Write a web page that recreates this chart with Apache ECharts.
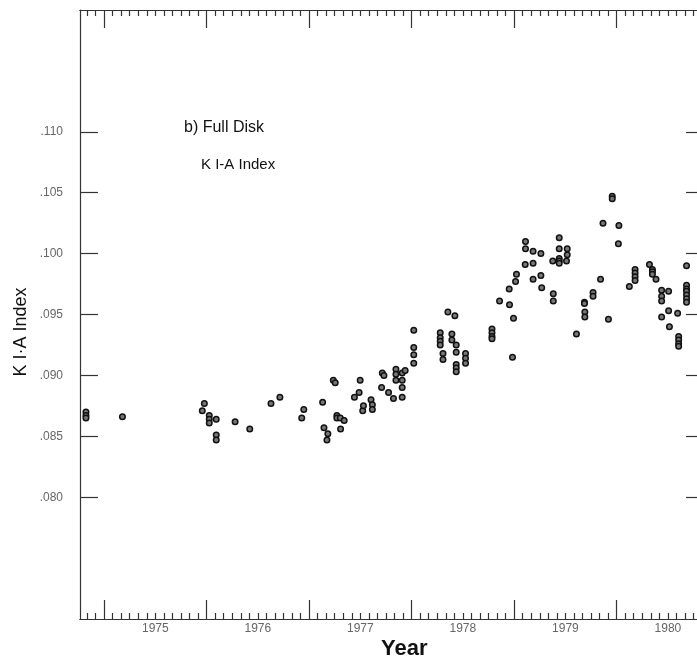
<!DOCTYPE html>
<html>
<head>
<meta charset="utf-8">
<script src="https://cdn.jsdelivr.net/npm/echarts@6/dist/echarts.min.js"></script>
<style>
html,body{margin:0;padding:0;background:#fff;}
#chart{width:697px;height:664px;}
</style>
</head>
<body>
<div id="chart"></div>
<script>
const obsYear = [
  1974.823,1974.823,1974.823,1975.179,
  1975.958,1975.978,1976.026,1976.026,1976.026,1976.094,1976.094,1976.094,
  1976.278,1976.421,1976.628,1976.715,1976.928,1976.948,
  1977.132,1977.145,1977.174,1977.183,1977.236,1977.255,1977.271,1977.271,1977.304,1977.307,1977.342,
  1977.442,1977.488,1977.498,1977.523,1977.530,1977.604,1977.617,1977.617,
  1977.707,1977.714,1977.730,1977.775,1977.823,1977.847,1977.847,1977.847,
  1977.908,1977.908,1977.908,1977.908,1977.937,
  1978.021,1978.021,1978.021,1978.021,
  1978.279,1978.279,1978.279,1978.279,1978.306,1978.306,1978.354,1978.393,1978.393,1978.422,
  1978.435,1978.435,1978.435,1978.435,1978.435,1978.526,1978.526,1978.526,
  1978.784,1978.784,1978.784,1978.784,
  1978.858,1978.952,1978.955,1978.984,1978.994,1979.014,1979.023,
  1979.108,1979.111,1979.111,1979.185,1979.185,1979.185,1979.261,1979.261,1979.269,
  1979.377,1979.382,1979.382,1979.440,1979.440,1979.440,1979.440,1979.440,
  1979.518,1979.518,1979.511,
  1979.608,1979.686,1979.686,1979.690,1979.690,1979.770,1979.770,1979.843,1979.867,1979.920,
  1979.957,1979.957,1980.017,1980.022,
  1980.124,1980.180,1980.180,1980.180,1980.180,
  1980.320,1980.349,1980.349,1980.349,1980.384,
  1980.439,1980.439,1980.439,1980.507,1980.507,1980.439,1980.515,
  1980.595,1980.605,1980.605,1980.605,1980.605,
  1980.682,1980.682,1980.682,1980.682,1980.682,1980.682,1980.682
];
const kIndex = [
  0.0870,0.0867,0.0865,0.0866,
  0.0871,0.0877,0.0867,0.0864,0.0861,0.0864,0.0851,0.0847,
  0.0862,0.0856,0.0877,0.0882,0.0865,0.0872,
  0.0878,0.0857,0.0847,0.0852,0.0896,0.0894,0.0867,0.0865,0.0865,0.0856,0.0863,
  0.0882,0.0886,0.0896,0.0871,0.0875,0.0880,0.0876,0.0872,
  0.0890,0.0902,0.0900,0.0886,0.0881,0.0905,0.0901,0.0896,
  0.0902,0.0896,0.0890,0.0882,0.0904,
  0.0937,0.0923,0.0917,0.0910,
  0.0935,0.0931,0.0928,0.0925,0.0918,0.0913,0.0952,0.0934,0.0929,0.0949,
  0.0925,0.0919,0.0909,0.0906,0.0903,0.0918,0.0914,0.0910,
  0.0938,0.0935,0.0932,0.0930,
  0.0961,0.0971,0.0958,0.0915,0.0947,0.0977,0.0983,
  0.0991,0.1010,0.1004,0.1002,0.0992,0.0979,0.1000,0.0982,0.0972,
  0.0994,0.0967,0.0961,0.1013,0.1004,0.0996,0.0994,0.0992,
  0.1004,0.0999,0.0994,
  0.0934,0.0960,0.0959,0.0952,0.0948,0.0968,0.0965,0.0979,0.1025,0.0946,
  0.1047,0.1045,0.1008,0.1023,
  0.0973,0.0987,0.0984,0.0981,0.0978,
  0.0991,0.0987,0.0985,0.0983,0.0979,
  0.0970,0.0965,0.0961,0.0969,0.0953,0.0948,0.0940,
  0.0951,0.0932,0.0929,0.0926,0.0924,
  0.0990,0.0974,0.0971,0.0969,0.0966,0.0963,0.0960
];
// Axis tick labels
const yearLabels = [1975,1976,1977,1978,1979,1980];
const yTickValues = [0.080,0.085,0.090,0.095,0.100,0.105,0.110];

const X_MIN = 1974.765, X_MAX = 1980.784;
const yearTicks = yearLabels.slice();
const labelPos = yearLabels.map(y => y + 0.5);
const monthTicks = [];
for (let m = Math.ceil(X_MIN*12 + 1e-6); m/12 <= X_MAX; m++) {
  if (m % 12 !== 0) monthTicks.push(m/12);
}

const points = obsYear.map((x,i) => [x, kIndex[i]]);
const tickColor = '#333';
const labelColor = '#666';

function xAx(pos, len, ticks, labels) {
  return {
    type:'value', min:X_MIN, max:X_MAX, position:pos, offset:0,
    axisLine:{show:true, onZero:false, lineStyle:{color:tickColor, width:1.2}},
    axisTick:{show:true, inside:true, length:len, customValues:ticks, lineStyle:{color:tickColor, width:1.2}},
    axisLabel: labels ? {show:true, customValues:labelPos, formatter:v=>String(Math.floor(v)), color:labelColor,
      fontFamily:'Liberation Sans', fontSize:12, margin:4} : {show:false},
    splitLine:{show:false}
  };
}
function yAx(pos, len, labels, line) {
  return {
    type:'value', min:0.07, max:0.12, position:pos, offset:0,
    axisLine:{show:line, onZero:false, lineStyle:{color:tickColor, width:1.2}},
    axisTick:{show:true, inside:true, length:len, customValues:yTickValues, lineStyle:{color:tickColor, width:1.2}},
    axisLabel: labels ? {show:true, customValues:yTickValues, formatter:v=>v.toFixed(3).replace(/^0/,''),
      color:labelColor, fontFamily:'Liberation Sans', fontSize:12, margin:17} : {show:false},
    splitLine:{show:false}
  };
}

const chart = echarts.init(document.getElementById('chart'), null, {renderer:'canvas'});
chart.setOption({
  animation:false,
  backgroundColor:'#fff',
  grid:{left:80, top:10, width:620, height:609, containLabel:false},
  xAxis:[
    xAx('bottom', 19, yearTicks, true),
    xAx('bottom', 6, monthTicks, false),
    xAx('top', 18, yearTicks, false),
    xAx('top', 6, monthTicks, false)
  ],
  yAxis:[
    yAx('left', 18, true, true),
    yAx('right', 11, false, false)
  ],
  graphic:[
    {type:'text', left:184, top:120, style:{text:'b) Full Disk', font:'16px "Liberation Sans"', fill:'#111'}},
    {type:'text', left:201, top:157, style:{text:'K I-A Index', font:'15px "Liberation Sans"', fill:'#111'}},
    {type:'text', left:381, top:638, style:{text:'Year', font:'bold 22px "Liberation Sans"', fill:'#111'}},
    {type:'text', x:21, y:332, rotation:Math.PI/2, style:{text:'K I·A Index', font:'18px "Liberation Sans"', fill:'#111', align:'center', verticalAlign:'middle'}}
  ],
  series:[{
    type:'scatter',
    xAxisIndex:0, yAxisIndex:0,
    data:points,
    symbol:'circle',
    symbolSize:5.5,
    itemStyle:{color:'#777', borderColor:'#111', borderWidth:1.5, opacity:1}
  }]
});
</script>
</body>
</html>
